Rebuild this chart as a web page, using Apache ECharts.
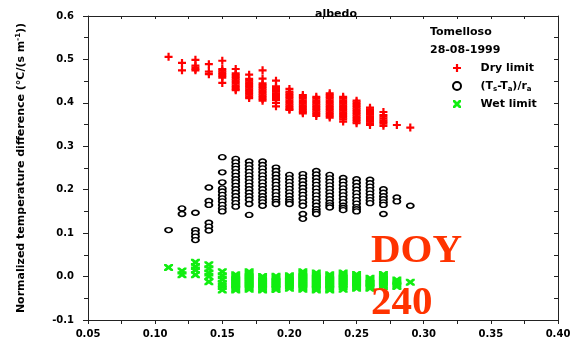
<!DOCTYPE html>
<html>
<head>
<meta charset="utf-8">
<script src="https://cdn.jsdelivr.net/npm/echarts@6/dist/echarts.min.js"></script>
<style>html,body{margin:0;padding:0;background:#fff;}#c{width:575px;height:341px;}</style>
</head>
<body>
<div id="c"></div>
<script>
// ---- data ----
const albedo = [0.11,0.12,0.13,0.14,0.15,0.16,0.17,0.18,0.19,0.20,0.21,0.22,0.23,0.24,0.25,0.26,0.27,0.28,0.29];
const xTicks = [0.05,0.10,0.15,0.20,0.25,0.30,0.35,0.40];
const yTicks = [-0.1,0.0,0.1,0.2,0.3,0.4,0.5,0.6];

const dryLimit = [
  [0.506],
  [0.492,0.475],
  [0.499,0.486,0.482,0.478,0.475],
  [0.489,0.472,0.466],
  [0.497,0.478,0.474,0.470,0.466,0.462,0.458,0.446],
  [0.478,0.468,0.464,0.460,0.456,0.452,0.448,0.444,0.440,0.436,0.432,0.429],
  [0.465,0.455,0.451,0.447,0.443,0.439,0.435,0.431,0.427,0.423,0.419,0.415,0.411],
  [0.475,0.456,0.445,0.441,0.437,0.433,0.429,0.425,0.421,0.417,0.413,0.409,0.405],
  [0.451,0.438,0.434,0.430,0.426,0.422,0.418,0.414,0.410,0.407,0.400,0.392],
  [0.432,0.426,0.422,0.418,0.414,0.410,0.406,0.402,0.398,0.394,0.390,0.386,0.384],
  [0.418,0.414,0.410,0.406,0.402,0.398,0.394,0.390,0.386,0.382,0.379,0.376],
  [0.414,0.410,0.406,0.402,0.398,0.394,0.390,0.386,0.382,0.378,0.374,0.370],
  [0.422,0.418,0.414,0.410,0.406,0.402,0.398,0.394,0.390,0.386,0.382,0.378,0.374,0.370,0.366],
  [0.414,0.410,0.406,0.402,0.398,0.394,0.390,0.386,0.382,0.378,0.374,0.370,0.366,0.362,0.357],
  [0.405,0.401,0.397,0.393,0.389,0.385,0.381,0.377,0.373,0.369,0.365,0.361,0.357,0.353],
  [0.389,0.385,0.381,0.377,0.373,0.369,0.365,0.361,0.357,0.353,0.349],
  [0.379,0.372,0.368,0.364,0.360,0.356,0.352,0.347],
  [0.349],
  [0.343]
];

const tsTaRa = [
  [0.107],
  [0.157,0.144],
  [0.147,0.107,0.100,0.092,0.084],
  [0.205,0.174,0.165,0.124,0.115,0.106],
  [0.275,0.240,0.217,0.203,0.196,0.188,0.180,0.173,0.165,0.157,0.150],
  [0.271,0.263,0.255,0.248,0.240,0.232,0.224,0.217,0.209,0.201,0.193,0.185,0.177,0.169,0.161],
  [0.265,0.257,0.249,0.241,0.233,0.225,0.217,0.209,0.201,0.193,0.185,0.177,0.167,0.142],
  [0.265,0.257,0.249,0.241,0.233,0.225,0.217,0.209,0.201,0.193,0.185,0.178,0.171,0.163],
  [0.251,0.243,0.235,0.227,0.219,0.211,0.203,0.195,0.187,0.179,0.172,0.167],
  [0.234,0.226,0.218,0.210,0.202,0.194,0.186,0.178,0.172,0.167],
  [0.236,0.228,0.220,0.212,0.204,0.196,0.188,0.180,0.171,0.163,0.144,0.133],
  [0.243,0.235,0.227,0.219,0.211,0.203,0.195,0.187,0.179,0.171,0.163,0.155,0.149,0.144],
  [0.234,0.226,0.218,0.210,0.202,0.194,0.186,0.178,0.170,0.164,0.159],
  [0.227,0.219,0.211,0.203,0.195,0.187,0.179,0.171,0.163,0.158,0.153],
  [0.224,0.216,0.208,0.200,0.192,0.184,0.176,0.168,0.160,0.155,0.150],
  [0.223,0.215,0.207,0.199,0.191,0.183,0.176,0.169],
  [0.201,0.193,0.185,0.178,0.171,0.165,0.144],
  [0.182,0.173],
  [0.163]
];

const wetLimit = [
  [0.021],
  [0.013,0.004],
  [0.033,0.023,0.015,0.004],
  [0.027,0.018,0.008,0.000,-0.012],
  [0.011,0.002,-0.006,-0.016,-0.023,-0.031],
  [0.004,0.000,-0.004,-0.008,-0.012,-0.016,-0.020,-0.024,-0.028,-0.031],
  [0.011,0.007,0.003,-0.001,-0.005,-0.009,-0.013,-0.017,-0.021,-0.025,-0.029],
  [0.000,-0.004,-0.008,-0.012,-0.016,-0.020,-0.024,-0.028,-0.031],
  [0.001,-0.003,-0.007,-0.011,-0.015,-0.019,-0.023,-0.027,-0.030],
  [0.002,-0.002,-0.006,-0.010,-0.014,-0.018,-0.022,-0.027],
  [0.011,0.007,0.003,-0.001,-0.005,-0.009,-0.013,-0.017,-0.021,-0.025,-0.029],
  [0.008,0.004,0.000,-0.004,-0.008,-0.012,-0.016,-0.020,-0.024,-0.028,-0.031],
  [0.004,0.000,-0.004,-0.008,-0.012,-0.016,-0.020,-0.024,-0.028,-0.031],
  [0.008,0.004,0.000,-0.004,-0.008,-0.012,-0.016,-0.020,-0.024,-0.029],
  [0.005,0.001,-0.003,-0.007,-0.011,-0.015,-0.019,-0.023,-0.027],
  [-0.004,-0.008,-0.012,-0.016,-0.020,-0.024,-0.027],
  [0.005,0.001,-0.003,-0.007,-0.011,-0.015,-0.019,-0.023],
  [-0.008,-0.012,-0.016,-0.020,-0.023],
  [-0.013]
];

const seriesNames = ['Dry limit', '(Ts-Ta)/ra', 'Wet limit'];
const siteLabel = 'Tomelloso';
const dateLabel = '28-08-1999';
const xTitle = 'albedo';
const doyLines = ['DOY', '240'];

// ---- build ----
function toPoints(cols) {
  const out = [];
  albedo.forEach((x, i) => cols[i].forEach(v => out.push([x, v])));
  return out;
}

const FONT = 'DejaVu Sans';
const crossPath = 'path://M2.9,0h2.2v8h-2.2z M0,2.9h8v2.2h-8z';
const xPath = 'path://M0,0L2,0L8,6L8,8L6,8L0,2Z M6,0L8,0L8,2L2,8L0,8L0,6Z';

const chart = echarts.init(document.getElementById('c'), null, {renderer: 'canvas'});
const axisLine = {show: true, onZero: false, lineStyle: {color: '#222', width: 1}};
const labelStyle = {color: '#000', fontFamily: FONT, fontWeight: 'bold', fontSize: 10};

chart.setOption({
  animation: false,
  backgroundColor: '#fff',
  grid: {left: 88, right: 17, top: 16, bottom: 21, containLabel: false},
  title: {
    text: xTitle, left: 331, top: 4, textAlign: 'center',
    textStyle: {fontFamily: FONT, fontWeight: 'bold', fontSize: 11, color: '#000'}
  },
  legend: {
    orient: 'vertical', left: 447, top: 56, itemGap: 4,
    itemWidth: 9, itemHeight: 8,
    data: seriesNames,
    formatter: function (n) {
      if (n === seriesNames[1]) return '(T{sub|s}-T{sub|a})/r{sub|a}';
      return n;
    },
    textStyle: {
      fontFamily: FONT, fontWeight: 'bold', fontSize: 11, color: '#000',
      lineHeight: 14, padding: [0, 0, 0, 14],
      rich: {sub: {fontFamily: FONT, fontWeight: 'bold', fontSize: 7, verticalAlign: 'bottom', padding: [6, 0, 0, 0]}}
    }
  },
  xAxis: [{
    type: 'value', min: 0.05, max: 0.40, interval: 0.05, position: 'bottom',
    axisLine: axisLine, splitLine: {show: false},
    axisTick: {show: true, inside: false, length: 4, lineStyle: {color: '#222'}},
    minorTick: {show: true, splitNumber: 2, length: 4, lineStyle: {color: '#222'}},
    axisLabel: Object.assign({margin: 9, formatter: v => v.toFixed(2), customValues: xTicks}, labelStyle)
  }, {
    type: 'value', min: 0.05, max: 0.40, interval: 0.05, position: 'top',
    axisLine: axisLine, splitLine: {show: false},
    axisTick: {show: true, inside: true, length: 3, lineStyle: {color: '#222'}},
    minorTick: {show: true, splitNumber: 2, length: 3, lineStyle: {color: '#222'}},
    axisLabel: {show: false}
  }],
  yAxis: [{
    type: 'value', min: -0.1, max: 0.6, interval: 0.1, position: 'left',
    axisLine: axisLine, splitLine: {show: false},
    axisTick: {show: true, inside: false, length: 5, lineStyle: {color: '#222'}},
    minorTick: {show: true, splitNumber: 2, length: 4, lineStyle: {color: '#222'}},
    axisLabel: Object.assign({margin: 14, formatter: v => v.toFixed(1), customValues: yTicks}, labelStyle),
    name: 'Normalized temperature difference (°C/(s m{sup|-1}))',
    nameLocation: 'middle', nameRotate: 90, nameGap: 60,
    nameTextStyle: {
      fontFamily: FONT, fontWeight: 'bold', fontSize: 11, color: '#000',
      rich: {sup: {fontFamily: FONT, fontWeight: 'bold', fontSize: 7, verticalAlign: 'top', padding: [0, 0, 6, 0]}}
    }
  }, {
    type: 'value', min: -0.1, max: 0.6, interval: 0.1, position: 'right',
    axisLine: axisLine, splitLine: {show: false},
    axisTick: {show: true, inside: true, length: 4, lineStyle: {color: '#222'}},
    minorTick: {show: true, splitNumber: 2, length: 4, lineStyle: {color: '#222'}},
    axisLabel: {show: false}
  }],
  series: [{
    name: seriesNames[0], type: 'scatter', symbol: crossPath, symbolSize: [8, 8],
    itemStyle: {color: '#ff0000', opacity: 1}, data: toPoints(dryLimit), z: 3
  }, {
    name: seriesNames[1], type: 'scatter', symbol: 'circle', symbolSize: [7, 5],
    itemStyle: {color: '#ffffff', borderColor: '#000', borderWidth: 1.6, opacity: 1},
    data: toPoints(tsTaRa), z: 3
  }, {
    name: seriesNames[2], type: 'scatter', symbol: xPath, symbolSize: [9, 7],
    itemStyle: {color: '#11ee11', opacity: 1}, data: toPoints(wetLimit), z: 3
  }],
  graphic: [
    {type: 'text', left: 430, top: 27, z: 10,
     style: {text: siteLabel, fontFamily: FONT, fontWeight: 'bold', fontSize: 11, fill: '#000'}},
    {type: 'text', left: 430, top: 45, z: 10,
     style: {text: dateLabel, fontFamily: FONT, fontWeight: 'bold', fontSize: 11, fill: '#000'}},
    {type: 'text', left: 371, top: 231, z: 100,
     style: {text: doyLines[0], fontFamily: 'Liberation Serif', fontWeight: 'bold', fontSize: 41, fill: '#ff3300'}},
    {type: 'text', left: 371, top: 283, z: 100,
     style: {text: doyLines[1], fontFamily: 'Liberation Serif', fontWeight: 'bold', fontSize: 41, fill: '#ff3300'}}
  ]
});
</script>
</body>
</html>
